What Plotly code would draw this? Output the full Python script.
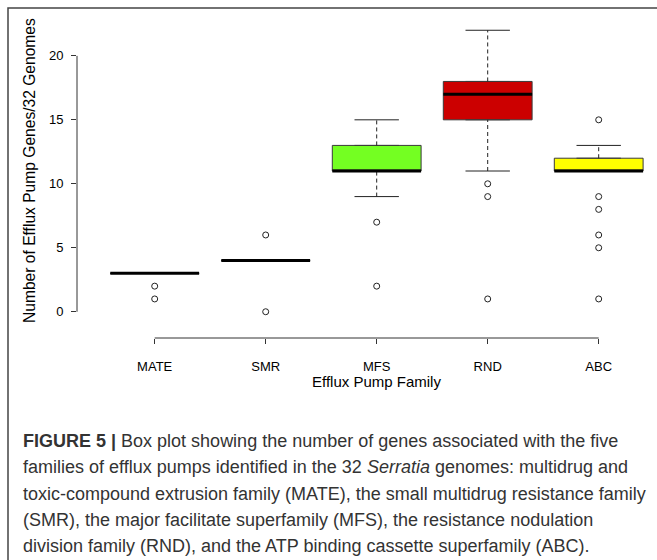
import plotly.graph_objects as go

# ---------------- data ----------------
categories = ["MATE", "SMR", "MFS", "RND", "ABC"]
q1 = [3, 4, 11, 15, 11]
median = [3, 4, 11, 17, 11]
q3 = [3, 4, 13, 18, 12]
lower_whisker = [3, 4, 9, 11, 11]
upper_whisker = [3, 4, 15, 22, 13]
outliers = [
    [2, 1],
    [6, 0],
    [7, 2],
    [10, 9, 1],
    [15, 9, 8, 6, 5, 1],
]
y_ticks = [0, 5, 10, 15, 20]

# ---------------- style ----------------
fill_colors = ["white", "white", "#74FF22", "#CC0000", "#FFFF00"]
W, H = 657, 560
ML, MR, MT, MB = 77, 0, 19, 222
PW, PH = W - ML - MR, H - MT - MB
BOX_W = 0.8
CAP_W = 0.4
FONT = "Liberation Sans, Arial, sans-serif"


def px_x(px):
    return (px - ML) / PW


def px_y(py):
    return (H - MB - py) / PH


positions = list(range(1, len(categories) + 1))
fig = go.Figure()

# boxes
for i, pos in enumerate(positions):
    fig.add_trace(go.Box(
        x=[pos], q1=[q1[i]], median=[median[i]], q3=[q3[i]],
        lowerfence=[q1[i]], upperfence=[q3[i]],
        width=BOX_W, fillcolor=fill_colors[i],
        line=dict(color="#3a3a3a", width=1),
        boxpoints=False, hoverinfo="skip", showlegend=False,
    ))

# whiskers (dashed)
wx, wy = [], []
for i, pos in enumerate(positions):
    wx += [pos, pos, None, pos, pos, None]
    wy += [q3[i], upper_whisker[i], None, lower_whisker[i], q1[i], None]
fig.add_trace(go.Scatter(x=wx, y=wy, mode="lines",
                         line=dict(color="#222", width=1, dash="4px,3px"),
                         hoverinfo="skip", showlegend=False))

# whisker caps
cx, cy = [], []
for i, pos in enumerate(positions):
    for v in (upper_whisker[i], lower_whisker[i]):
        cx += [pos - CAP_W / 2, pos + CAP_W / 2, None]
        cy += [v, v, None]
fig.add_trace(go.Scatter(x=cx, y=cy, mode="lines",
                         line=dict(color="#222", width=1),
                         hoverinfo="skip", showlegend=False))

# medians (thick)
mx, my = [], []
for i, pos in enumerate(positions):
    mx += [pos - BOX_W / 2, pos + BOX_W / 2, None]
    my += [median[i], median[i], None]
fig.add_trace(go.Scatter(x=mx, y=my, mode="lines",
                         line=dict(color="black", width=3),
                         hoverinfo="skip", showlegend=False))

# outliers
ox, oy = [], []
for i, pos in enumerate(positions):
    for v in outliers[i]:
        ox.append(pos)
        oy.append(v)
fig.add_trace(go.Scatter(x=ox, y=oy, mode="markers",
                         marker=dict(symbol="circle-open", size=6,
                                     color="#222", line=dict(width=1)),
                         hoverinfo="skip", showlegend=False))

# axis lines (R style: only between extreme ticks)
fx0, fy0 = px_x(8), px_y(8)
fx1, fy1 = px_x(W + 10), px_y(H + 10)
shapes = [
    dict(type="line", xref="paper", yref="y", x0=0, x1=0,
         y0=min(y_ticks), y1=max(y_ticks), line=dict(color="#333", width=1)),
    dict(type="line", xref="x", yref="paper", x0=positions[0], x1=positions[-1],
         y0=0, y1=0, line=dict(color="#333", width=1)),
    # figure frame (open to the right and bottom, as in the cropped original)
    dict(type="path", xref="paper", yref="paper",
         path=f"M {fx0} {fy1} L {fx0} {fy0} L {fx1} {fy0}",
         line=dict(color="#444", width=1.5), layer="above"),
]

caption_lines = [
    "<b>FIGURE 5 |</b> Box plot showing the number of genes associated with the five",
    "families of efflux pumps identified in the 32 <i>Serratia</i> genomes: multidrug and",
    "toxic-compound extrusion family (MATE), the small multidrug resistance family",
    "(SMR), the major facilitate superfamily (MFS), the resistance nodulation",
    "division family (RND), and the ATP binding cassette superfamily (ABC).",
]
annotations = [
    dict(text="Number of Efflux Pump Genes/32 Genomes", textangle=-90,
         xref="paper", yref="paper", x=px_x(29), y=px_y(171),
         xanchor="center", yanchor="middle",
         showarrow=False, font=dict(size=15.6, color="black", family=FONT)),
    dict(text="Efflux Pump Family", xref="x", yref="paper", x=3, y=px_y(381),
         xanchor="center", yanchor="middle",
         showarrow=False, font=dict(size=15, color="black", family=FONT)),
]
for k, line in enumerate(caption_lines):
    annotations.append(dict(
        text=line, xref="paper", yref="paper", x=px_x(21), y=px_y(441 + k * 26.3),
        xanchor="left", yanchor="middle", showarrow=False,
        font=dict(size=18, color="#333", family=FONT)))

fig.update_layout(
    width=W, height=H,
    margin=dict(l=ML, r=MR, t=MT, b=MB, pad=0),
    paper_bgcolor="white", plot_bgcolor="white",
    font=dict(family=FONT, color="black", size=13),
    xaxis=dict(range=[0.3, 0.3 + PW / 111.0], tickmode="array",
               tickvals=positions, ticktext=categories,
               anchor="free", position=0, showline=False, showgrid=False,
               zeroline=False, ticks="outside", ticklen=5, tickcolor="#333",
               ticklabelstandoff=11, tickfont=dict(size=13, color="black")),
    yaxis=dict(range=[-0.88, 22.88], domain=[px_y(323), 1], tickmode="array",
               tickvals=y_ticks, showline=False, showgrid=False, zeroline=False,
               ticks="outside", ticklen=5, tickcolor="#333",
               ticklabelstandoff=5, tickfont=dict(size=13, color="black")),
    shapes=shapes, annotations=annotations,
)

fig.write_html("out.html", config={"displayModeBar": False},
               post_script="document.body.style.margin='0';document.body.style.overflow='hidden';")
